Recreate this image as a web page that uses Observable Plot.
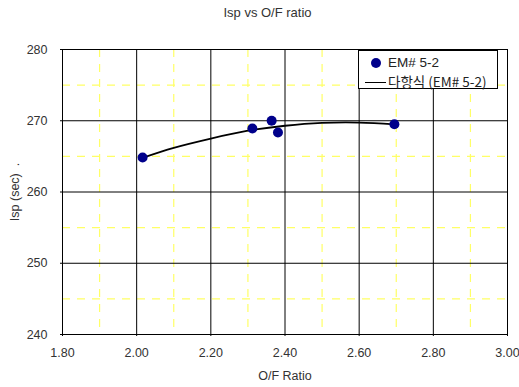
<!DOCTYPE html>
<html><head><meta charset="utf-8">
<script src="https://cdn.jsdelivr.net/npm/d3@7"></script>
<script src="https://cdn.jsdelivr.net/npm/@observablehq/plot@0.6"></script>
<style>
body{margin:0;background:#fff;font-family:"Liberation Sans",Arial,sans-serif;color:#333;}
#wrap{position:relative;width:519px;height:387px;background:#fff;}
#title{height:30px;width:519px;box-sizing:border-box;padding-left:16px;text-align:center;font-size:13px;line-height:13px;padding-top:6px;color:#333;}
#legend{position:absolute;left:358px;top:50px;width:138px;height:37px;border:1px solid #000;background:#fff;font-size:13.5px;color:#222;}
.li{position:absolute;left:29px;white-space:nowrap;line-height:14px;}
.ko{font-family:"Noto Sans CJK KR","Liberation Sans",sans-serif;}
#ldot{position:absolute;left:12px;top:7px;width:10px;height:10px;border-radius:50%;background:#00008b;}
#lline{position:absolute;left:6px;top:31px;width:21px;height:0;border-top:1.6px solid #000;}
</style></head>
<body>
<div id="wrap">
  <div id="title">Isp vs O/F ratio</div>
  <div id="chart"></div>
  <div id="legend">
    <div id="ldot"></div><div class="li" style="top:5px">EM# 5-2</div>
    <div id="lline"></div><div class="li ko" style="top:23px">다항식 (EM# 5-2)</div>
  </div>
</div>
<script>
const xTicks = [1.8, 2.0, 2.2, 2.4, 2.6, 2.8, 3.0];
const xMinor = [1.9, 2.1, 2.3, 2.5, 2.7, 2.9];
const yTicks = [240, 250, 260, 270, 280];
const yMinor = [245, 255, 265, 275];
const ofRatio = [2.016, 2.312, 2.364, 2.381, 2.695];
const isp = [264.85, 268.9, 270.0, 268.35, 269.5];
const trendOF = [2.016, 2.10, 2.20, 2.30, 2.40, 2.50, 2.60, 2.695];
const trendIsp = [264.8, 266.2, 267.5, 268.6, 269.3, 269.7, 269.75, 269.5];

const points = ofRatio.map((x, i) => ({x, y: isp[i]}));
const trend = trendOF.map((x, i) => ({x, y: trendIsp[i]}));

const chart = Plot.plot({
  width: 519, height: 357,
  marginTop: 19, marginBottom: 53, marginLeft: 62, marginRight: 12,
  style: {fontFamily: "'Liberation Sans', Arial, sans-serif", fontSize: "12.5px", color: "#333", background: "#fff"},
  x: {domain: [1.8, 3.0]},
  y: {domain: [240, 280]},
  marks: [
    Plot.ruleX(xMinor, {stroke: "#ffff66", strokeDasharray: "8,7", strokeWidth: 1.2}),
    Plot.ruleY(yMinor, {stroke: "#ffff66", strokeDasharray: "8,7", strokeWidth: 1.2}),
    Plot.ruleX(xTicks.slice(1, -1), {stroke: "#000", strokeWidth: 1}),
    Plot.ruleY(yTicks.slice(1, -1), {stroke: "#000", strokeWidth: 1}),
    Plot.axisX({ticks: xTicks, tickFormat: d => d.toFixed(2), tickSize: 2, tickPadding: 12,
      label: "O/F Ratio", labelAnchor: "center", labelArrow: "none", labelOffset: 45, stroke: "#000"}),
    Plot.axisY({ticks: yTicks, tickSize: 2, tickPadding: 13,
      label: "Isp (sec)\u00a0\u00a0.", labelAnchor: "center", labelArrow: "none", labelOffset: 52, stroke: "#000"}),
    Plot.line(trend, {x: "x", y: "y", curve: "natural", stroke: "#000", strokeWidth: 1.8}),
    Plot.dot(points, {x: "x", y: "y", r: 5, fill: "#00008b", stroke: "none"}),
    Plot.frame({stroke: "#000"})
  ]
});
document.getElementById("chart").appendChild(chart);
</script>
</body></html>
